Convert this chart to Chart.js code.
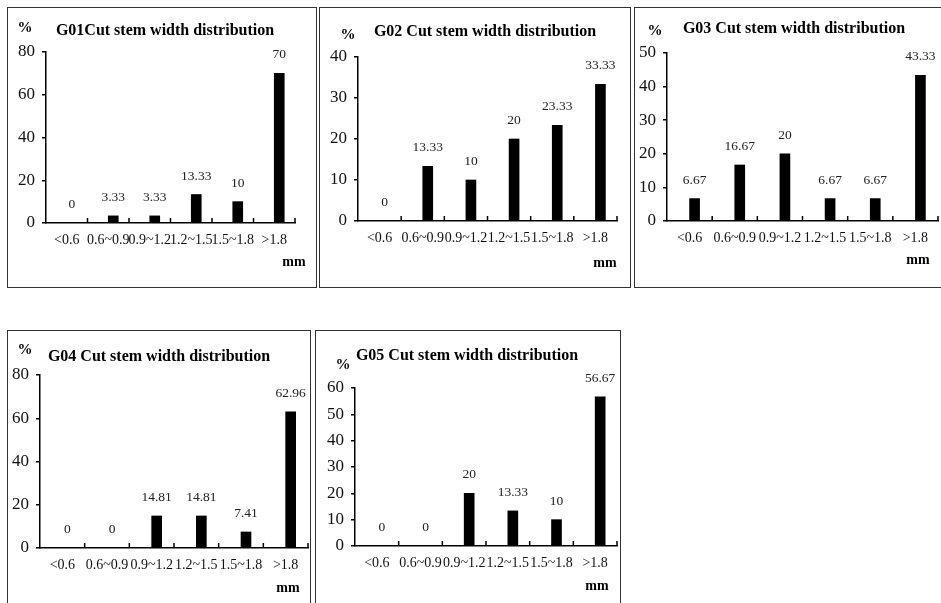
<!DOCTYPE html>
<html>
<head>
<meta charset="utf-8">
<script src="https://cdn.jsdelivr.net/npm/chart.js@4.4.1/dist/chart.umd.min.js"></script>
<style>
  body { margin: 0; background: #fff; width: 941px; height: 603px; overflow: hidden; position: relative; }
  .frame { position: absolute; border: 1.5px solid #333; box-sizing: border-box; }
  canvas { position: absolute; }
</style>
</head>
<body>
<div class="frame" style="left:7px;top:7px;width:310px;height:281px"></div>
<div class="frame" style="left:319px;top:7px;width:312px;height:281px"></div>
<div class="frame" style="left:634px;top:7px;width:320px;height:281px"></div>
<div class="frame" style="left:7px;top:330px;width:304px;height:300px"></div>
<div class="frame" style="left:315px;top:330px;width:306px;height:300px"></div>

<canvas id="c1"></canvas>
<canvas id="c2"></canvas>
<canvas id="c3"></canvas>
<canvas id="c4"></canvas>
<canvas id="c5"></canvas>

<script>
const categories = ["<0.6", "0.6~0.9", "0.9~1.2", "1.2~1.5", "1.5~1.8", ">1.8"];

const g01Values = [0, 3.33, 3.33, 13.33, 10, 70];
const g02Values = [0, 13.33, 10, 20, 23.33, 33.33];
const g03Values = [6.67, 16.67, 20, 6.67, 6.67, 43.33];
const g04Values = [0, 0, 14.81, 14.81, 7.41, 62.96];
const g05Values = [0, 0, 20, 13.33, 10, 56.67];

const panelTitles = [
  "G01Cut stem width distribution",
  "G02 Cut stem width distribution",
  "G03 Cut stem width distribution",
  "G04 Cut stem width distribution",
  "G05 Cut stem width distribution",
];
const yMaxima = [80, 40, 50, 80, 60];
const yStepSizes = [20, 10, 10, 20, 10];
const seriesList = [g01Values, g02Values, g03Values, g04Values, g05Values];

// page layout: box = [left, top, w, h], plot = [left, top, right, bottom] inside box
const panels = [
  { id: "c1", box: [7, 7, 309, 280], plot: [39, 45, 288, 216], title: [158, 24], pct: [18, 21], mm: [287, 255] },
  { id: "c2", box: [319, 7, 311, 280], plot: [39, 50, 298, 214], title: [166, 25], pct: [29, 28], mm: [286, 256] },
  { id: "c3", box: [634, 7, 307, 280], plot: [33, 46, 304, 214], title: [160, 22], pct: [21, 24], mm: [284, 253] },
  { id: "c4", box: [7, 330, 303, 273], plot: [33, 45, 301, 218], title: [152, 27], pct: [18, 20], mm: [281, 258] },
  { id: "c5", box: [315, 330, 305, 273], plot: [40, 58, 302, 216], title: [152, 26], pct: [28, 35], mm: [282, 256] },
];

const SERIF = "'Liberation Serif', 'Times New Roman', serif";

const annotatePlugin = {
  id: "annotate",
  afterDraw(chart, args, opts) {
    const { ctx, chartArea, scales: { x } } = chart;
    ctx.save();

    // small upward ticks between categories
    const half = (x.getPixelForValue(1) - x.getPixelForValue(0)) / 2;
    ctx.strokeStyle = "#000";
    ctx.lineWidth = 1.5;
    ctx.beginPath();
    for (let i = 0; i < categories.length; i++) {
      const bx = x.getPixelForValue(i) + half;
      ctx.moveTo(bx, chartArea.bottom);
      ctx.lineTo(bx, chartArea.bottom - 5);
    }
    ctx.stroke();

    // value labels above bars
    const ds = chart.data.datasets[1];
    ctx.font = "13.5px " + SERIF;
    ctx.fillStyle = "#222";
    ctx.textAlign = "center";
    ctx.textBaseline = "alphabetic";
    chart.getDatasetMeta(1).data.forEach((bar, i) => {
      ctx.fillText(String(ds.data[i]), bar.x, bar.y - 15);
    });

    // title, unit labels
    ctx.fillStyle = "#000";
    ctx.textBaseline = "middle";
    ctx.font = "bold 16px " + SERIF;
    ctx.fillText(opts.title, opts.titlePos[0], opts.titlePos[1]);
    ctx.font = "bold 15px " + SERIF;
    ctx.fillText("%", opts.pctPos[0], opts.pctPos[1]);
    ctx.font = "bold 14px " + SERIF;
    ctx.fillText("mm", opts.mmPos[0], opts.mmPos[1]);
    ctx.restore();
  },
};

panels.forEach((p, k) => {
  const cv = document.getElementById(p.id);
  const [bl, bt, bw, bh] = p.box;
  const [pl, pt, pr, pb] = p.plot;
  cv.style.left = bl + "px";
  cv.style.top = bt + "px";
  cv.width = bw;
  cv.height = bh;

  new Chart(cv, {
    type: "bar",
    data: {
      labels: categories,
      datasets: [
        { data: categories.map(() => null), backgroundColor: "transparent", barThickness: 10 },
        { data: seriesList[k], backgroundColor: "#000", borderWidth: 0, barThickness: 10 },
      ],
    },
    options: {
      responsive: false,
      animation: false,
      devicePixelRatio: 1,
      layout: { padding: { left: 0, top: pt, right: bw - pr, bottom: 0 } },
      scales: {
        x: {
          grid: { display: false, drawTicks: false },
          border: { display: true, color: "#000", width: 1.5 },
          ticks: {
            color: "#111",
            font: { family: SERIF, size: 14 },
            padding: 9,
            autoSkip: false,
            maxRotation: 0,
            minRotation: 0,
          },
          afterFit: (s) => { s.height = bh - pb; },
        },
        y: {
          min: 0,
          max: yMaxima[k],
          ticks: {
            stepSize: yStepSizes[k],
            color: "#111",
            font: { family: SERIF, size: 17 },
            padding: 7,
          },
          grid: { drawOnChartArea: false, drawTicks: true, tickLength: 4, color: "#000", lineWidth: 1.5 },
          border: { display: true, color: "#000", width: 1.5 },
          afterFit: (s) => { s.width = pl; },
        },
      },
      plugins: {
        legend: { display: false },
        tooltip: { enabled: false },
        annotate: { title: panelTitles[k], titlePos: p.title, pctPos: p.pct, mmPos: p.mm },
      },
    },
    plugins: [annotatePlugin],
  });
});
</script>
</body>
</html>
